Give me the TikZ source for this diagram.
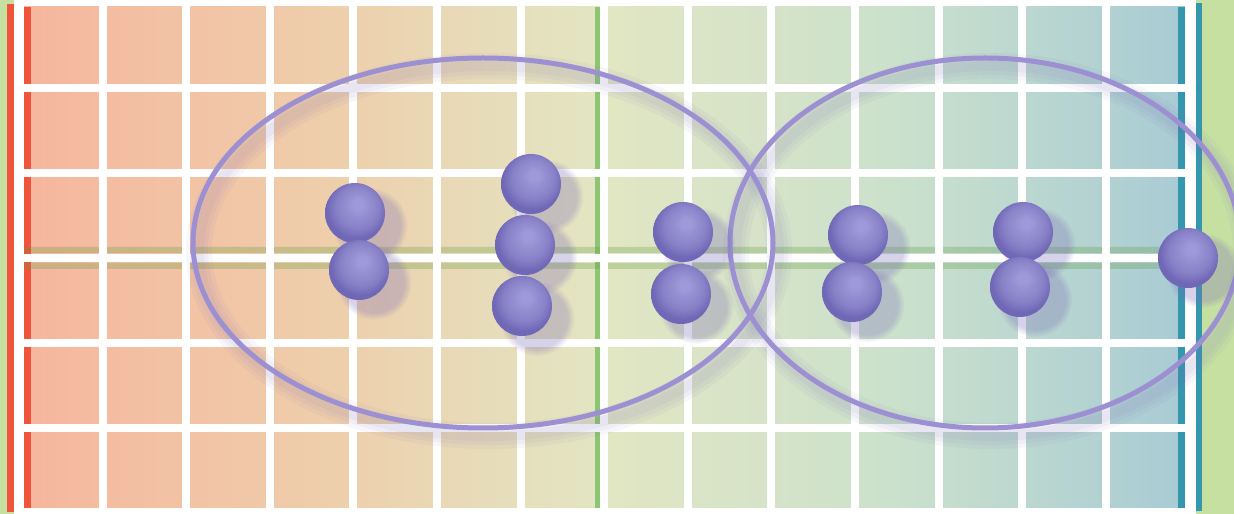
\documentclass[tikz,border=0pt]{standalone}
\usetikzlibrary{shapes.geometric, shadows, fadings}
\definecolor{sidegreen}{HTML}{C6E0A2}
\definecolor{edgered}{HTML}{F0553C}
\definecolor{edgeteal}{HTML}{3597AE}
\definecolor{midgreen}{HTML}{8CC672}
\definecolor{bandtint}{HTML}{5E9A3A}
\definecolor{ringlilac}{HTML}{9C90D2}
\definecolor{beadhi}{HTML}{9E99D8}
\definecolor{beadmid}{HTML}{8780C7}
\definecolor{beadlo}{HTML}{7068B6}
\definecolor{beadshadow}{HTML}{7A6CB8}
\definecolor{cellA}{HTML}{F6B69E}
\definecolor{cellB}{HTML}{EFCDAA}
\definecolor{cellC}{HTML}{E2E6C3}
\definecolor{cellD}{HTML}{CBE1CC}
\definecolor{cellE}{HTML}{A8CBD4}
\pgfdeclarehorizontalshading{cellspectrum}{100bp}{color(0bp)=(cellA); color(25bp)=(cellA);
  color(37.5bp)=(cellB); color(50bp)=(cellC); color(62.5bp)=(cellD); color(75bp)=(cellE);
  color(100bp)=(cellE)}
\pgfdeclareradialshading{beadshade}{\pgfpoint{3bp}{8bp}}{color(0bp)=(beadhi); color(4bp)=(beadhi);
  color(18bp)=(beadmid); color(25bp)=(beadlo); color(50bp)=(beadlo)}
\newcommand{\placebead}[3]{%
  \node[bead] (#1) at (#2,#3) {};}

\begin{document}
\begin{tikzpicture}[x=0.1mm, y=-0.1mm,
    gridline/.style={white, line width=0.8mm},
    ring/.style={ellipse, draw=ringlilac, line width=0.5mm, inner sep=0pt, minimum height=37mm},
    ringshade/.style={draw=beadshadow, draw opacity=0.06},
    bead/.style={circle, inner sep=0pt, minimum size=6mm, shade, shading=beadshade,
      circular drop shadow={shadow xshift=1.2mm, shadow yshift=-1mm, shadow scale=1.25,
        fill=beadshadow, opacity=0.3, path fading=circle with fuzzy edge 20 percent}}]
  \useasboundingbox (0,0) rectangle (1234,514);
  % frame and cells
  \fill[sidegreen] (0,0) rectangle (1234,514);
  \fill[white] (14,0) rectangle (1196,514);
  \fill[edgered] (7,4) rectangle (14,512);
  \fill[edgeteal] (1196,3) rectangle (1202,511);
  \shade[shading=cellspectrum] (24,7) rectangle (1185,508);
  \fill[edgered] (24,7) rectangle (31,508);
  \fill[midgreen] (595,7) rectangle (600,508);
  \fill[edgeteal] (1178,7) rectangle (1185,508);
  \fill[bandtint, opacity=0.28] (24,247) rectangle (1185,253) (24,263) rectangle (1185,269);
  \foreach \k in {1,...,13}
    \draw[gridline] ({19+83.6*\k},0) -- ++(0,514);
  \foreach \k in {1,...,5}
    \draw[gridline] (14,{3+85*\k}) -- (1196,{3+85*\k});
  % soft shadows of the rings
  \foreach \w in {2.6,1.8,1.0} {
    \draw[ringshade, line width=\w mm] (489,251) ellipse [x radius=290, y radius=185];
    \draw[ringshade, line width=\w mm] (991,251) ellipse [x radius=255, y radius=185];
  }
  \node[ring, minimum width=58mm] (leftring) at (483,243) {};
  \node[ring, minimum width=51mm] (rightring) at (985,243) {};
  % beads
  \placebead{b1}{355}{213}
  \placebead{b2}{359}{270}
  \placebead{b3}{531}{184}
  \placebead{b4}{525}{245}
  \placebead{b5}{522}{306}
  \placebead{b6}{683}{232}
  \placebead{b7}{681}{294}
  \placebead{b8}{858}{235}
  \placebead{b9}{852}{292}
  \placebead{b10}{1023}{232}
  \placebead{b11}{1020}{287}
  \placebead{b12}{1188}{258}
\end{tikzpicture}
\end{document}
